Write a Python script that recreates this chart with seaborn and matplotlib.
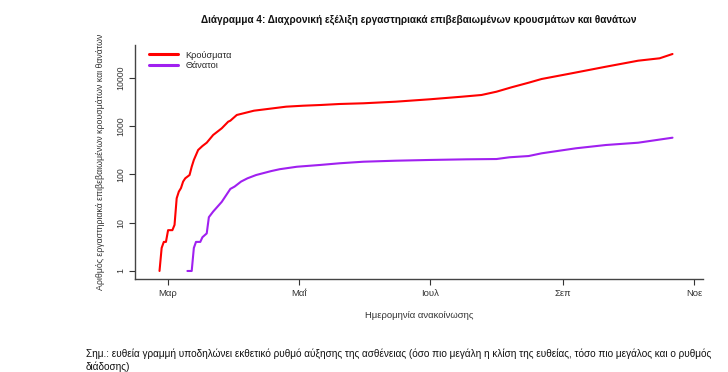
import matplotlib
matplotlib.use("Agg")
import matplotlib.pyplot as plt
from matplotlib.lines import Line2D
import seaborn as sns
import pandas as pd

# ---- data ----
case_dates = ["2020-02-26", "2020-02-27", "2020-02-28", "2020-02-29", "2020-03-01", "2020-03-03",
              "2020-03-04", "2020-03-05", "2020-03-06", "2020-03-07", "2020-03-08", "2020-03-09",
              "2020-03-11", "2020-03-12", "2020-03-13", "2020-03-15", "2020-03-17", "2020-03-19",
              "2020-03-22", "2020-03-26", "2020-03-29", "2020-03-30", "2020-04-02", "2020-04-10",
              "2020-04-19", "2020-04-25", "2020-05-03", "2020-05-11", "2020-05-20", "2020-05-31",
              "2020-06-15", "2020-07-01", "2020-07-16", "2020-07-25", "2020-08-01", "2020-08-08",
              "2020-08-16", "2020-08-22", "2020-09-05", "2020-09-21", "2020-10-06", "2020-10-16",
              "2020-10-22"]
cases = [1, 3, 4, 4, 7, 7, 9, 32, 44, 52, 71, 83, 97, 144, 199, 320, 387, 453, 655, 900,
         1233, 1294, 1698, 2084, 2337, 2524, 2644, 2733, 2869, 2966, 3200, 3590, 4064, 4405,
         5155, 6355, 7920, 9440, 12380, 16980, 22600, 25330, 31100]

death_dates = ["2020-03-10", "2020-03-12", "2020-03-13", "2020-03-14", "2020-03-16", "2020-03-17",
               "2020-03-19", "2020-03-20", "2020-03-22", "2020-03-26", "2020-03-30", "2020-04-01",
               "2020-04-04", "2020-04-07", "2020-04-11", "2020-04-18", "2020-04-22", "2020-04-30",
               "2020-05-11", "2020-05-20", "2020-05-31", "2020-06-15", "2020-07-01", "2020-07-18",
               "2020-08-01", "2020-08-07", "2020-08-16", "2020-08-22", "2020-09-07", "2020-09-21",
               "2020-10-06", "2020-10-22"]
deaths = [1, 1, 3, 4, 4, 5, 6, 13, 17, 27, 50, 56, 71, 83, 97, 117, 128, 144, 157, 170, 183,
          192, 199, 205, 208, 226, 240, 273, 347, 406, 453, 575]

series_names = ["Κρούσματα", "Θάνατοι"]
series_colors = ["#FF0000", "#A020F0"]
tick_dates = ["2020-03-01", "2020-05-01", "2020-07-01", "2020-09-01", "2020-11-01"]
tick_labels = ["Μαρ", "Μαΐ", "Ιουλ", "Σεπ", "Νοε"]
y_ticks = [1, 10, 100, 1000, 10000]
y_tick_labels = ["1", "10", "100", "1000", "10000"]

title = "Διάγραμμα 4: Διαχρονική εξέλιξη εργαστηριακά επιβεβαιωμένων κρουσμάτων και θανάτων"
ylabel = "Αριθμός εργαστηριακά επιβεβαιωμένων κρουσμάτων και θανάτων"
xlabel = "Ημερομηνία ανακοίνωσης"
note = ("Σημ.: ευθεία γραμμή υποδηλώνει εκθετικό ρυθμό αύξησης της ασθένειας (όσο πιο μεγάλη η κλίση "
        "της ευθείας, τόσο πιο μεγάλος και ο ρυθμός\nδιάδοσης)")

df = pd.concat([
    pd.DataFrame({"date": pd.to_datetime(case_dates), "value": cases, "series": series_names[0]}),
    pd.DataFrame({"date": pd.to_datetime(death_dates), "value": deaths, "series": series_names[1]}),
])

sns.set_theme(style="white")
plt.rcParams["font.family"] = ["Liberation Sans Narrow", "Liberation Sans", "DejaVu Sans"]

fig = plt.figure(figsize=(7.28, 3.72), dpi=100)
ax = fig.add_axes([135 / 728, 1 - 279 / 372, (703 - 135) / 728, (279 - 45) / 372])

sns.lineplot(data=df, x="date", y="value", hue="series", palette=series_colors,
             hue_order=series_names, linewidth=1.5, ax=ax, legend=False, estimator=None)

ax.set_yscale("log")
ax.set_ylim(10 ** -0.166, 10 ** 4.679)
ax.set_xlim(pd.Timestamp("2020-02-14 14:00"), pd.Timestamp("2020-11-05 05:00"))

ax.set_yticks(y_ticks)
ax.set_yticklabels(y_tick_labels, rotation=90, va="center", fontsize=6.3, color="#333333")
ax.yaxis.set_minor_locator(matplotlib.ticker.NullLocator())
ax.set_xticks(pd.to_datetime(tick_dates))
ax.set_xticklabels(tick_labels, fontsize=6.8, color="#333333")
ax.tick_params(axis="both", which="major", length=4, width=0.8, color="#333333",
               left=True, bottom=True, pad=3)

for s in ["top", "right"]:
    ax.spines[s].set_visible(False)
for s in ["left", "bottom"]:
    ax.spines[s].set_color("#444444")
    ax.spines[s].set_linewidth(1.0)

ax.set_xlabel("")
ax.set_ylabel("")
fig.text(419 / 728, 1 - 315 / 372, xlabel, ha="center", va="center", fontsize=6.8, color="#333333")
fig.text(101 / 728, 1 - 162 / 372, ylabel, ha="center", va="center", rotation=90,
         fontsize=6.3, color="#333333")
fig.text(419 / 728, 1 - 20 / 372, title, ha="center", va="center", fontsize=7.2,
         fontweight="bold", color="#111111")
fig.text(86 / 728, 1 - 360 / 372, note, ha="left", va="center", fontsize=7.2,
         color="#111111", linespacing=1.25)

handles = [Line2D([0], [0], color=c, lw=2.2) for c in series_colors]
ax.legend(handles, series_names, loc="upper left", bbox_to_anchor=(10 / 568, 1 - 2 / 234),
          frameon=False, fontsize=6.6, handlelength=3.2, handletextpad=0.8,
          labelspacing=0.2, borderaxespad=0)

fig.savefig("out.png", dpi=100)
